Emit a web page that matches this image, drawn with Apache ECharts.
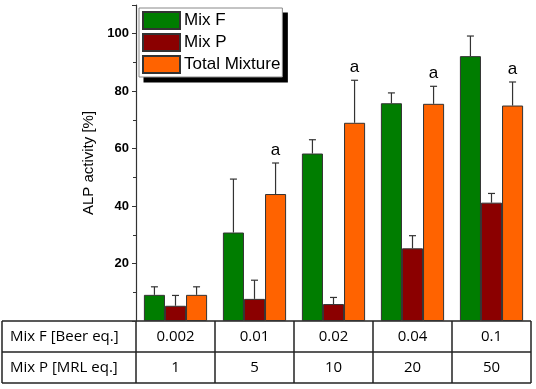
<!DOCTYPE html>
<html>
<head>
<meta charset="utf-8">
<script src="https://cdn.jsdelivr.net/npm/echarts@6/dist/echarts.min.js"></script>
<style>
  html, body { margin: 0; padding: 0; background: #fff; }
  #chart { width: 536px; height: 389px; }
</style>
</head>
<body>
<div id="chart"></div>
<script>
// data
const groups = ['G1', 'G2', 'G3', 'G4', 'G5'];
const mixFLabels = ['0.002', '0.01', '0.02', '0.04', '0.1'];
const mixPLabels = ['1', '5', '10', '20', '50'];
const rowTitles = ['Mix F [Beer eq.]', 'Mix P [MRL eq.]'];

const seriesNames = ['Mix F', 'Mix P', 'Total Mixture'];
const mixF = [9.1, 30.8, 58.3, 75.8, 92.2];
const mixP = [5.3, 7.7, 5.9, 25.3, 41.2];
const total = [9.1, 44.2, 69.0, 75.6, 75.0];
const mixFErr = [2.8, 18.6, 4.8, 3.6, 7.0];
const mixPErr = [3.6, 6.5, 2.3, 4.4, 3.2];
const totalErr = [2.8, 10.8, 14.8, 6.1, 8.2];
const totalMarks = ['', 'a', 'a', 'a', 'a'];

const colors = ['#007d00', '#8b0000', '#ff6300'];
const values = [mixF, mixP, total];
const errs = [mixFErr, mixPErr, totalErr];

const chart = echarts.init(document.getElementById('chart'));

function errorSeries(idx) {
    const data = groups.map((g, i) => [i, values[idx][i], values[idx][i] + errs[idx][i], idx === 2 ? totalMarks[i] : '']);
    return {
        type: 'custom',
        name: seriesNames[idx] + ' err',
        z: 5,
        data: data,
        renderItem: (params, api) => {
            const catW = api.size([1, 0])[0];
            const bw = catW * 0.8 / 3;
            const base = api.coord([api.value(0), api.value(1)]);
            const top = api.coord([api.value(0), api.value(2)]);
            const x = base[0] + (idx - 1) * bw;
            const children = [
                { type: 'line', shape: { x1: x, y1: base[1], x2: x, y2: top[1] }, style: { stroke: '#333', lineWidth: 1.2 } },
                { type: 'line', shape: { x1: x - 3.5, y1: top[1], x2: x + 3.5, y2: top[1] }, style: { stroke: '#333', lineWidth: 1.2 } }
            ];
            const mark = api.value(3);
            if (mark) {
                children.push({
                    type: 'text',
                    style: { x: x, y: top[1] - 4, text: mark, textAlign: 'center', textVerticalAlign: 'bottom',
                        font: '17px "Liberation Sans", Arial', fill: '#000' }
                });
            }
            return { type: 'group', children: children };
        }
    };
}

const option = {
    animation: false,
    grid: { left: 136, right: 5, top: 5, bottom: 68 },
    legend: {
        data: seriesNames,
        orient: 'vertical',
        left: 139,
        top: 8,
        z: 10,
        itemWidth: 37,
        itemHeight: 17,
        itemGap: 3,
        padding: [3, 2, 3, 3],
        backgroundColor: '#fff',
        borderColor: '#888',
        borderWidth: 1,
        icon: 'rect',
        textStyle: { fontFamily: '"Liberation Sans", Arial', fontSize: 17, color: '#000', padding: [0, 0, 0, -1] }
    },
    xAxis: {
        type: 'category',
        data: groups,
        axisLine: { show: false },
        axisTick: { show: false },
        axisLabel: { show: false }
    },
    yAxis: {
        type: 'value',
        min: 0,
        max: 110,
        interval: 20,
        name: 'ALP activity [%]',
        nameLocation: 'middle',
        nameGap: 32,
        nameTextStyle: { fontFamily: '"Liberation Sans", Arial', fontSize: 15, color: '#000' },
        axisLine: { show: true, lineStyle: { color: '#333', width: 1.2 } },
        axisTick: { show: true, length: 4, lineStyle: { color: '#333' } },
        minorTick: { show: true, splitNumber: 2, length: 3, lineStyle: { color: '#333' } },
        splitLine: { show: false },
        axisLabel: {
            fontFamily: '"Liberation Sans", Arial', fontSize: 13, fontWeight: 'bold', color: '#000', margin: 7,
            formatter: v => (v === 0 || v === 110 ? '' : v)
        }
    },
    series: [
        ...seriesNames.map((name, k) => ({
            type: 'bar',
            name: name,
            data: values[k],
            barGap: '0%',
            barCategoryGap: '20%',
            itemStyle: { color: colors[k], borderColor: '#333', borderWidth: 1 }
        })),
        errorSeries(0), errorSeries(1), errorSeries(2)
    ]
};
chart.setOption(option);

// legend drop shadow, drawn behind the legend box
const legendView = chart.getViewOfComponentModel(chart.getModel().getComponent('legend'));
const lr = legendView.group.getBoundingRect();
const lx = legendView.group.x, ly = legendView.group.y;

// table below the plot
const rows = [mixFLabels, mixPLabels];
const xs = groups.map((g, i) => chart.convertToPixel({ xAxisIndex: 0 }, i));
const catW = xs[1] - xs[0];
const tableTop = 321, rowH = 31, tableLeft = 2;
const tableRight = xs[xs.length - 1] + catW / 2;
const axisX = xs[0] - catW / 2;
const lineStyle = { stroke: '#222', lineWidth: 1.5 };
const tableFont = '15px "Open Sans", "Noto Sans", sans-serif';
const graphics = [{
    type: 'rect', z: 9,
    shape: { x: lx + lr.x + 5, y: ly + lr.y + 5, width: lr.width, height: lr.height },
    style: { fill: '#000' }
}];
for (let r = 0; r <= rows.length; r++) {
    const y = tableTop + r * rowH;
    graphics.push({ type: 'line', shape: { x1: tableLeft, y1: y, x2: tableRight, y2: y }, style: lineStyle });
}
const colXs = [tableLeft, axisX, ...xs.map(x => x + catW / 2)];
colXs.forEach(x => {
    graphics.push({ type: 'line', shape: { x1: x, y1: tableTop, x2: x, y2: tableTop + rows.length * rowH }, style: lineStyle });
});
rows.forEach((row, r) => {
    const cy = tableTop + r * rowH + rowH / 2;
    graphics.push({ type: 'text', style: { x: 10, y: cy, text: rowTitles[r], font: tableFont, fill: '#000', textVerticalAlign: 'middle' } });
    row.forEach((t, i) => {
        graphics.push({ type: 'text', style: { x: xs[i], y: cy, text: t, font: tableFont, fill: '#000', textAlign: 'center', textVerticalAlign: 'middle' } });
    });
});
chart.setOption({ graphic: graphics });
</script>
</body>
</html>
